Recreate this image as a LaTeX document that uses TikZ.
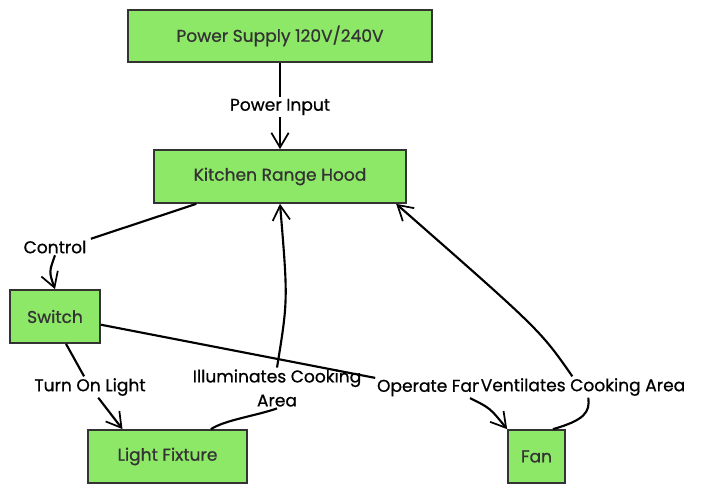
\documentclass[tikz,border=0pt]{standalone}
\usepackage{fontspec}
\setmainfont{Poppins}[FakeBold=0.8]
\newfontfamily\lblfont{Poppins}[FakeBold=0.8]
\usetikzlibrary{arrows.meta,calc}
\definecolor{boxgreen}{RGB}{142,232,104}
\definecolor{boxline}{RGB}{51,51,51}
\tikzset{
  boxnode/.style={draw=boxline, line width=1.3pt, fill=boxgreen, text=boxline,
    font=\lblfont\fontsize{12.8}{15}\selectfont, inner sep=0pt},
  lbl/.style={fill=white, text=black, font=\lblfont\fontsize{12.8}{18}\selectfont, inner sep=1.2pt, align=center},
  conn/.style={line width=1.6pt, black},
  arr/.style={conn, -{Straight Barb[length=11pt,width=13pt,line width=1.3pt]}}
}
\begin{document}
\begin{tikzpicture}[x=0.75pt,y=-0.75pt]
\useasboundingbox (0,0) rectangle (703,493);
% boxes
\node[boxnode, minimum width=228pt, minimum height=39pt] (ps) at (280,36) {Power Supply 120V/240V};
\node[boxnode, minimum width=189pt, minimum height=39.75pt] (hood) at (280,176.5) {Kitchen Range Hood};
\node[boxnode, minimum width=67.5pt, minimum height=39.75pt] (sw) at (55,316.5) {Switch};
\node[boxnode, minimum width=119.25pt, minimum height=39.75pt] (lf) at (167.5,456.5) {Light Fixture};
\node[boxnode, minimum width=42.75pt, minimum height=39.75pt] (fan) at (536.5,456.5) {Fan};
% labels
\node[lbl] (lP) at (280,107) {Power Input};
\node[lbl] (lC) at (55,247) {Control};
\node[lbl] (lT) at (90,387) {Turn On Light};
\node[lbl] (lI) at (277,388) {Illuminates Cooking\\Area};
\node[lbl] (lO) at (430,388) {Operate Fan};
% connectors
\draw[conn] (ps) -- (lP);
\draw[arr] (lP) -- (hood);
\draw[conn] ($(hood.south west)!0.17!(hood.south east)$) -- ($(lC.north east)+(2pt,0)$);
\draw[arr] (lC.south) .. controls (49,272) .. (sw.north);
\draw[conn] ($(sw.south west)!0.62!(sw.south east)$) -- (lT);
\draw[arr] (lT) -- ($(lf.north west)!0.22!(lf.north east)$);
\draw[conn] ($(lf.north west)!0.77!(lf.north east)$) .. controls (225,420) and (255,416) .. (lI.south);
\draw[arr] (lI.north) .. controls (288,300) .. (hood.south);
\draw[conn] ($(sw.north east)!0.65!(sw.south east)$) -- (lO.north west);
\draw[arr] ($(lO.south)+(30pt,0)$) .. controls (490,408) .. (fan.north west);
\node[lbl] (lV) at (583,387) {Ventilates Cooking Area};
\draw[conn] ($(fan.north west)!0.78!(fan.north east)$) .. controls (585,420) and (590,412) .. ($(lV.south)+(4pt,0)$);
\draw[arr] ($(lV.north)+(-8pt,0)$) .. controls (540,330) .. ($(hood.south east)+(-8pt,0)$);
\end{tikzpicture}
\end{document}
